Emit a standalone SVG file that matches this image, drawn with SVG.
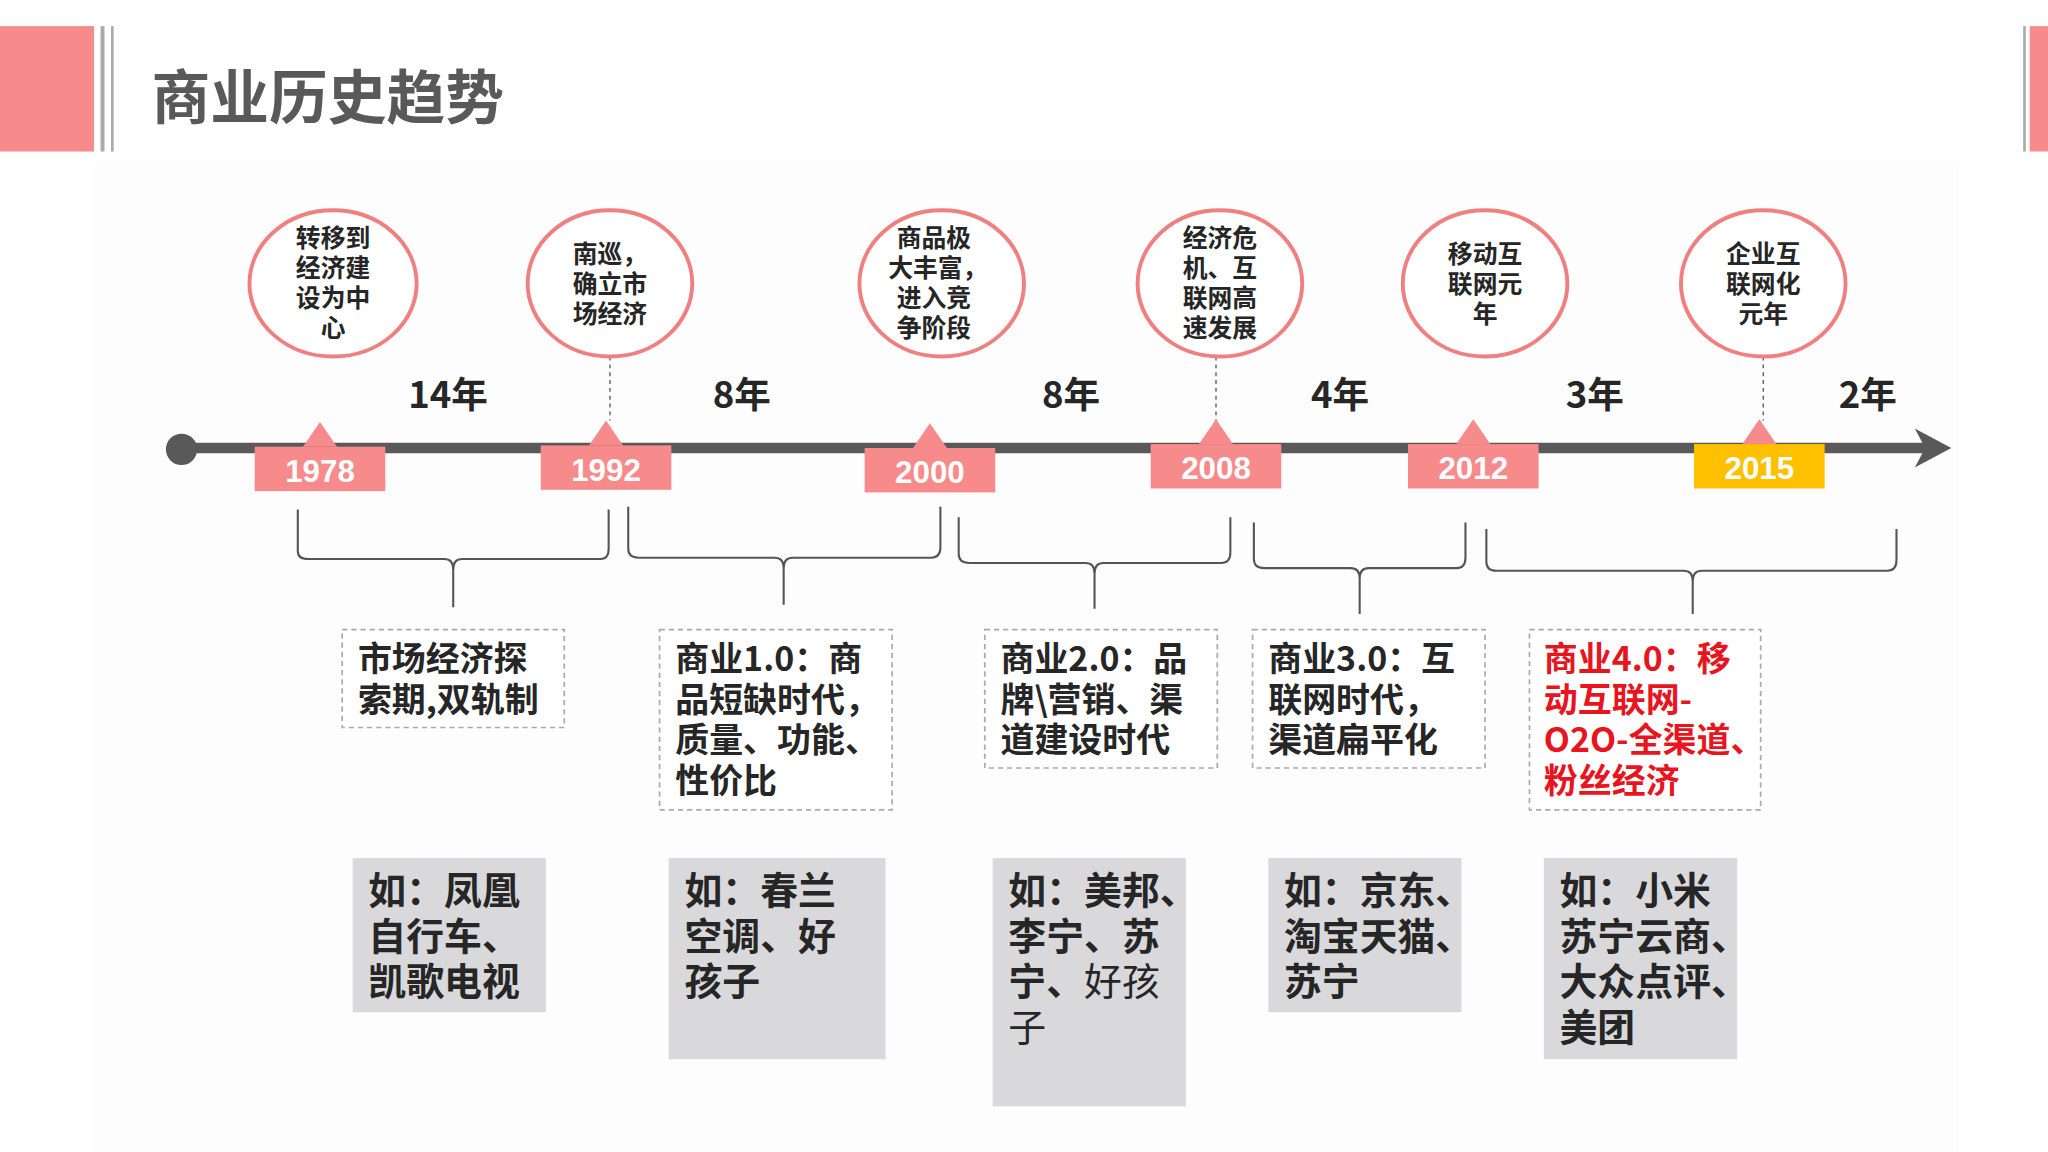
<svg xmlns="http://www.w3.org/2000/svg" width="2048" height="1152" viewBox="0 0 2048 1152">
<style>
.t{font-family:"Noto Sans CJK SC","Liberation Sans",sans-serif}
.c{fill:#fff;stroke:#f08080;stroke-width:3}
.ct{font-size:19px;font-weight:700;fill:#262626;text-anchor:middle}
.yr{fill:#f78a8a}
.yt{font-size:24px;font-weight:700;fill:#fff;text-anchor:middle;font-family:"Liberation Sans",sans-serif}
.iv{font-size:28px;font-weight:700;fill:#262626;text-anchor:middle}
.br{fill:none;stroke:#555;stroke-width:1.6}
.db{fill:#fff;stroke:#aaa;stroke-width:1.3;stroke-dasharray:4 3}
.bt{font-size:26px;font-weight:700;fill:#262626}
.gb{fill:#d9d9dc}
.gt{font-size:29px;font-weight:700;fill:#262626}
.dl{stroke:#555;stroke-width:1;stroke-dasharray:3 3}
</style>
<rect width="2048" height="1152" fill="#fff"/>
<g transform="scale(1.30612)">
<g id="header">
<rect x="70" y="125" width="1430" height="757" fill="#fdfdfe"/>
<rect x="0" y="20" width="72" height="96" fill="#f78a8a"/>
<rect x="77" y="20" width="3" height="96" fill="#aaa"/>
<rect x="85" y="20" width="2" height="96" fill="#aaa"/>
<rect x="1549" y="20" width="2" height="96" fill="#aaa"/>
<rect x="1554" y="20" width="14" height="96" fill="#f78a8a"/>
<text class="t" x="116" y="91" font-size="45" font-weight="700" fill="#595959">商业历史趋势</text>
</g>
<g id="connectors">
<line class="dl" x1="467" y1="273" x2="467" y2="322"/>
<line class="dl" x1="931" y1="273" x2="931" y2="322"/>
<line class="dl" x1="1350" y1="273" x2="1350" y2="322"/>
<line x1="139" y1="343" x2="1476" y2="343" stroke="#595959" stroke-width="8"/>
<circle cx="139" cy="344" r="12" fill="#595959"/>
<polygon points="1466,328 1494,343 1466,358 1474,343" fill="#595959"/>
<path class="br" d="M228,390 V422 Q228,428 236,428 H340 Q347,428 347,436 V465 M347,436 Q347,428 354,428 H460 Q466,428 466,420 V390"/>
<path class="br" d="M481,388 V420 Q481,427 489,427 H593 Q600,427 600,435 V463 M600,435 Q600,427 607,427 H713 Q720,427 720,419 V388"/>
<path class="br" d="M734,396 V424 Q734,431 742,431 H831 Q838,431 838,439 V466 M838,439 Q838,431 845,431 H935 Q942,431 942,423 V396"/>
<path class="br" d="M960,400 V428 Q960,435 968,435 H1034 Q1041,435 1041,443 V470 M1041,443 Q1041,435 1048,435 H1115 Q1122,435 1122,427 V400"/>
<path class="br" d="M1138,405 V430 Q1138,437 1146,437 H1289 Q1296,437 1296,445 V470 M1296,445 Q1296,437 1303,437 H1445 Q1452,437 1452,429 V405"/>
</g>
<g id="c1978" class="t"><ellipse class="c" cx="255" cy="217" rx="64" ry="56"/><text class="ct" x="255" y="189">转移到</text><text class="ct" x="255" y="212">经济建</text><text class="ct" x="255" y="235">设为中</text><text class="ct" x="255" y="258">心</text></g>
<g id="c1992" class="t"><ellipse class="c" cx="467" cy="217" rx="63" ry="56"/><text class="ct" x="467" y="201">南巡，</text><text class="ct" x="467" y="224">确立市</text><text class="ct" x="467" y="247">场经济</text></g>
<g id="c2000" class="t"><ellipse class="c" cx="721" cy="217" rx="63" ry="56"/><text class="ct" x="715" y="189">商品极</text><text class="ct" x="718" y="212">大丰富，</text><text class="ct" x="715" y="235">进入竞</text><text class="ct" x="715" y="258">争阶段</text></g>
<g id="c2008" class="t"><ellipse class="c" cx="934" cy="217" rx="63" ry="56"/><text class="ct" x="934" y="189">经济危</text><text class="ct" x="934" y="212">机、互</text><text class="ct" x="934" y="235">联网高</text><text class="ct" x="934" y="258">速发展</text></g>
<g id="c2012" class="t"><ellipse class="c" cx="1137" cy="217" rx="63" ry="56"/><text class="ct" x="1137" y="201">移动互</text><text class="ct" x="1137" y="224">联网元</text><text class="ct" x="1137" y="247">年</text></g>
<g id="c2015" class="t"><ellipse class="c" cx="1350" cy="217" rx="63" ry="56"/><text class="ct" x="1350" y="201">企业互</text><text class="ct" x="1350" y="224">联网化</text><text class="ct" x="1350" y="247">元年</text></g>
<g id="intervals" class="t">
<text class="iv" x="343" y="312">14年</text><text class="iv" x="568" y="312">8年</text><text class="iv" x="820" y="312">8年</text><text class="iv" x="1026" y="312">4年</text><text class="iv" x="1221" y="312">3年</text><text class="iv" x="1430" y="312">2年</text>
</g>
<g id="y1978"><polygon class="yr" points="232,342 245,323 258,342"/><rect class="yr" x="195" y="342" width="100" height="34"/><text class="yt" x="245" y="369">1978</text></g>
<g id="y1992"><polygon class="yr" points="451,341 464,322 477,341"/><rect class="yr" x="414" y="341" width="100" height="34"/><text class="yt" x="464" y="368">1992</text></g>
<g id="y2000"><polygon class="yr" points="699,343 712,324 725,343"/><rect class="yr" x="662" y="343" width="100" height="34"/><text class="yt" x="712" y="370">2000</text></g>
<g id="y2008"><polygon class="yr" points="918,340 931,321 944,340"/><rect class="yr" x="881" y="340" width="100" height="34"/><text class="yt" x="931" y="367">2008</text></g>
<g id="y2012"><polygon class="yr" points="1115,340 1128,321 1141,340"/><rect class="yr" x="1078" y="340" width="100" height="34"/><text class="yt" x="1128" y="367">2012</text></g>
<g id="y2015"><polygon class="yr" points="1334,340 1347,321 1360,340"/><rect x="1297" y="340" width="100" height="34" fill="#ffc000"/><text class="yt" x="1347" y="367">2015</text></g>
<g id="b1" class="t"><rect class="db" x="262" y="482" width="170" height="75"/><text class="bt" x="274" y="514">市场经济探</text><text class="bt" x="274" y="545">索期,双轨制</text></g>
<g id="b2" class="t"><rect class="db" x="505" y="482" width="178" height="138"/><text class="bt" x="517" y="514">商业1.0：商</text><text class="bt" x="517" y="545">品短缺时代，</text><text class="bt" x="517" y="576">质量、功能、</text><text class="bt" x="517" y="607">性价比</text></g>
<g id="b3" class="t"><rect class="db" x="754" y="482" width="178" height="106"/><text class="bt" x="766" y="514">商业2.0：品</text><text class="bt" x="766" y="545">牌\营销、渠</text><text class="bt" x="766" y="576">道建设时代</text></g>
<g id="b4" class="t"><rect class="db" x="959" y="482" width="178" height="106"/><text class="bt" x="971" y="514">商业3.0：互</text><text class="bt" x="971" y="545">联网时代，</text><text class="bt" x="971" y="576">渠道扁平化</text></g>
<g id="b5" class="t"><rect class="db" x="1171" y="482" width="177" height="138"/><text class="bt" x="1182" y="514" style="fill:#e8141e">商业4.0：移</text><text class="bt" x="1182" y="545" style="fill:#e8141e">动互联网-</text><text class="bt" x="1182" y="576" style="fill:#e8141e">O2O-全渠道、</text><text class="bt" x="1182" y="607" style="fill:#e8141e">粉丝经济</text></g>
<g id="g1" class="t"><rect class="gb" x="270" y="657" width="148" height="118"/><text class="gt" x="282" y="692">如：凤凰</text><text class="gt" x="282" y="727">自行车、</text><text class="gt" x="282" y="762">凯歌电视</text></g>
<g id="g2" class="t"><rect class="gb" x="512" y="657" width="166" height="154"/><text class="gt" x="524" y="692">如：春兰</text><text class="gt" x="524" y="727">空调、好</text><text class="gt" x="524" y="762">孩子</text></g>
<g id="g3" class="t"><rect class="gb" x="760" y="657" width="148" height="190"/><text class="gt" x="772" y="692">如：美邦、</text><text class="gt" x="772" y="727">李宁、苏</text><text class="gt" x="772" y="762">宁、<tspan font-weight="400">好孩</tspan></text><text class="gt" x="772" y="797" style="font-weight:400">子</text></g>
<g id="g4" class="t"><rect class="gb" x="971" y="657" width="148" height="118"/><text class="gt" x="983" y="692">如：京东、</text><text class="gt" x="983" y="727">淘宝天猫、</text><text class="gt" x="983" y="762">苏宁</text></g>
<g id="g5" class="t"><rect class="gb" x="1182" y="657" width="148" height="154"/><text class="gt" x="1194" y="692">如：小米</text><text class="gt" x="1194" y="727">苏宁云商、</text><text class="gt" x="1194" y="762">大众点评、</text><text class="gt" x="1194" y="797">美团</text></g>
</g>
</svg>
